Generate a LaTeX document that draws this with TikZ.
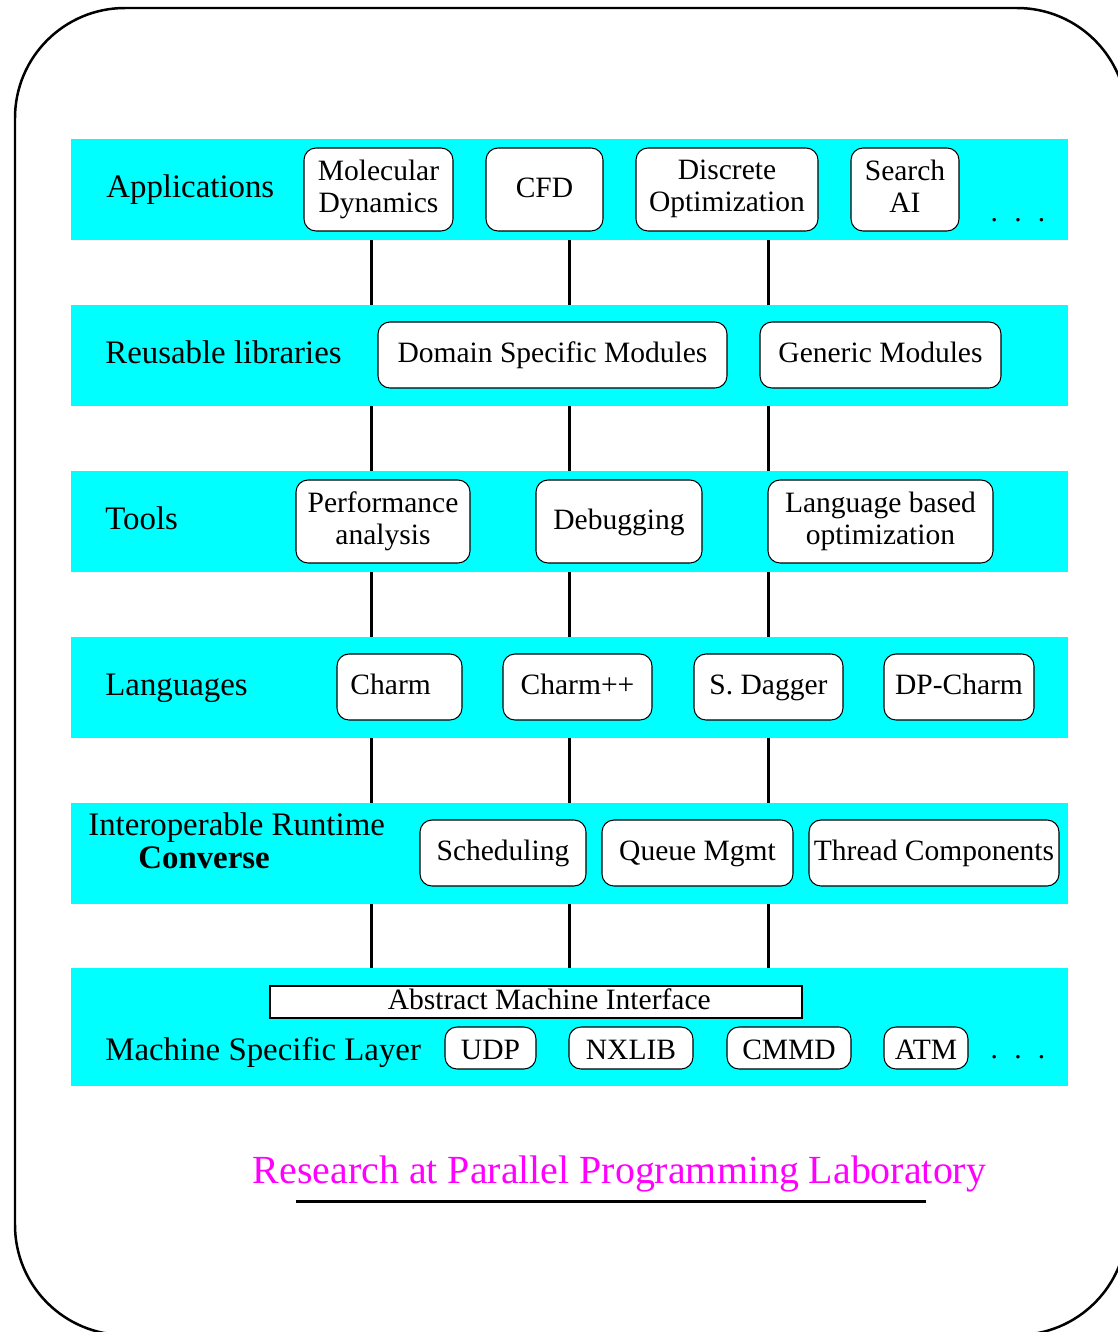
\documentclass[tikz,border=0pt]{standalone}
\usepackage{fontspec}
\setmainfont{Liberation Serif}
\definecolor{bandcyan}{RGB}{0,255,255}
\definecolor{titlemag}{RGB}{255,0,255}
\newcommand{\boxfont}{\fontsize{16.8}{18.1}\selectfont}
\newcommand{\labfont}{\fontsize{18.7}{21}\selectfont}
\newcommand{\ttlfont}{\fontsize{22.7}{26}\selectfont}
\newcommand{\lnst}{\rule[-4pt]{0pt}{12pt}}
\newcommand{\modnode}[7][]{\node[modbox, #1, minimum width={(#5-#3)*0.02cm}, minimum height={(#6-#4)*0.02cm}] (#2) at ({(#3+#5)/2},{(#4+#6)/2}) {#7};}
\newcommand{\bandnode}[5]{\node[bandbox, minimum width={(#4-#2)*0.02cm}, minimum height={(#5-#3)*0.02cm}] (#1) at ({(#2+#4)/2},{(#3+#5)/2}) {};}
\begin{document}
\begin{tikzpicture}[x=0.02cm,y=-0.02cm,
  bandbox/.style={fill=bandcyan, draw=none, inner sep=0},
  modbox/.style={draw, fill=white, rounded corners=0.24cm, align=center, inner sep=0, font=\boxfont, line width=0.6pt},
  one/.style={text height=12pt, text depth=3pt},
  low/.style={text height=13.6pt, text depth=0pt},
  amibox/.style={draw, fill=white, inner sep=0, font=\boxfont, line width=0.6pt, text height=12pt, text depth=3pt},
  lab/.style={anchor=base west, inner sep=0, font=\labfont},
  conn/.style={line width=0.06cm},
  dotsnode/.style={anchor=base, inner sep=0, font=\boxfont}]
\useasboundingbox (0,0) rectangle (1118,1332);
\clip (0,0) rectangle (1118,1332);
% outer frame
\draw[line width=0.05cm, rounded corners=2.2cm] (15,8) rectangle (1127,1335);
% bands
\bandnode{b1}{71}{139}{1068}{240}
\bandnode{b2}{71}{305}{1068}{406}
\bandnode{b3}{71}{471}{1068}{572}
\bandnode{b4}{71}{637}{1068}{738}
\bandnode{b5}{71}{803}{1068}{904}
\bandnode{b6}{71}{968}{1068}{1086}
% connectors
\coordinate (cA) at (371,0);
\coordinate (cB) at (569,0);
\coordinate (cC) at (768,0);
\foreach \a/\b in {b1/b2,b2/b3,b3/b4,b4/b5,b5/b6}
  \foreach \c in {cA,cB,cC}
    \draw[conn] (\a.south -| \c) -- (\b.north -| \c);
% labels
\node[lab] (lapp) at (106,197) {Applications};
\node[lab] (lrl) at (105,363) {Reusable libraries};
\node[lab] (ltools) at (105,529) {Tools};
\node[lab] (llang) at (105,695) {Languages};
\node[lab] (lir) at (88,835) {Interoperable Runtime};
\node[lab] (lconv) at (138,868) {\textbf{Converse}};
\node[lab] (lmsl) at (105,1060) {Machine Specific Layer};
% row 1
\modnode{md}{304}{148}{453}{231}{\lnst Molecular\\\lnst Dynamics}
\modnode[one]{cfd}{486}{148}{603}{231}{CFD}
\modnode{dopt}{636}{148}{818}{231}{\lnst Discrete\\\lnst Optimization}
\modnode{sai}{851}{148}{959}{231}{\lnst Search\\\lnst AI}
\node[dotsnode] (dots1) at (1018,221) {.\hspace{0.55em}.\hspace{0.55em}.};
% row 2
\modnode[one]{dsm}{378}{322}{727}{388}{Domain Specific Modules}
\modnode[one]{gm}{760}{322}{1001}{388}{Generic Modules}
% row 3
\modnode{pa}{296}{480}{470}{563}{\lnst Performance\\\lnst analysis}
\modnode[one]{dbg}{536}{480}{702}{563}{Debugging}
\modnode{lbo}{768}{480}{993}{563}{\lnst Language based\\\lnst optimization}
% row 4
\modnode[one]{charm}{337}{654}{462}{720}{Charm\hspace{0.6em}}
\modnode[one]{charmpp}{503}{654}{652}{720}{Charm++}
\modnode[one]{sdag}{694}{654}{843}{720}{S. Dagger}
\modnode[one]{dpc}{884}{654}{1034}{720}{DP-Charm}
% row 5
\modnode[one]{sched}{420}{820}{586}{886}{Scheduling}
\modnode[one]{qm}{602}{820}{793}{886}{Queue Mgmt}
\modnode[one]{tc}{809}{820}{1059}{886}{Thread Components}
% row 6
\node[amibox, minimum width={(802-270)*0.02cm}, minimum height={(1018-986)*0.02cm}] (ami) at (536,1002) {\hspace{0.9em}Abstract Machine Interface};
\modnode[low]{udp}{445}{1027}{536}{1069}{UDP}
\modnode[low]{nxlib}{569}{1027}{693}{1069}{NXLIB}
\modnode[low]{cmmd}{727}{1027}{851}{1069}{CMMD}
\modnode[low]{atm}{884}{1027}{968}{1069}{ATM}
\node[dotsnode] (dots2) at (1018,1058) {.\hspace{0.55em}.\hspace{0.55em}.};
% title
\node[anchor=base, inner sep=0, font=\ttlfont, text=titlemag] (title) at (619.5,1183) {Research at Parallel Programming Laboratory};
\coordinate (ulA) at (296,1201);
\coordinate (ulB) at (926,1201);
\draw[conn] (ulA) -- (ulB);
\end{tikzpicture}
\end{document}
